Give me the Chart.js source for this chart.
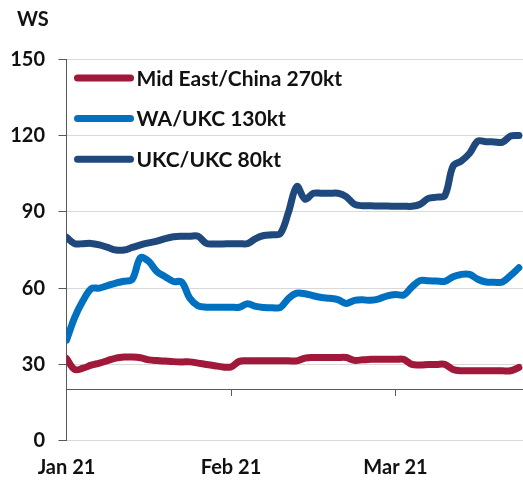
<!DOCTYPE html>
<html>
<head>
<meta charset="utf-8">
<script src="https://cdn.jsdelivr.net/npm/chart.js@4/dist/chart.umd.min.js"></script>
<style>
  html, body { margin: 0; padding: 0; background: #fff; }
  canvas { display: block; }
</style>
</head>
<body>
<canvas id="c" width="523" height="481" style="width:523px;height:481px"></canvas>
<script>
// ---- data ----
const tickIndex  = [0, 20, 40];
const tickLabels = ['Jan 21', 'Feb 21', 'Mar 21'];
const seriesNames = ['Mid East/China 270kt', 'WA/UKC 130kt', 'UKC/UKC 80kt'];
const seriesColors = ['#a0183a', '#0070c0', '#1f497d'];

const midEastChina = [32.3, 28, 28.5, 29.7, 30.5, 31.5, 32.5, 32.9, 32.9, 32.6,
  31.8, 31.5, 31.3, 31.1, 31, 31, 30.5, 30, 29.5, 29,
  29, 31.2, 31.4, 31.4, 31.4, 31.4, 31.4, 31.4, 31.4, 32.5,
  32.7, 32.7, 32.7, 32.7, 32.7, 31.6, 31.8, 32, 32, 32,
  32, 32, 30, 29.8, 30, 30, 30, 28, 27.5, 27.5,
  27.5, 27.5, 27.5, 27.5, 27.5, 28.8];

const waUkc = [39.5, 48.5, 55, 59.8, 60, 61, 62, 62.7, 63.5, 72,
  70.5, 66.5, 64.5, 62.6, 62.4, 56, 53, 52.5, 52.5, 52.5,
  52.5, 52.5, 53.9, 52.8, 52.4, 52.3, 52.4, 56, 58, 57.8,
  57, 56.3, 56, 55.5, 54, 55.2, 55.4, 55.2, 55.8, 57,
  57.5, 57.3, 60.5, 63, 62.9, 62.8, 62.7, 64.5, 65.4, 65.4,
  63.5, 62.4, 62.3, 62.4, 65, 68];

const ukcUkc = [80, 77.5, 77.5, 77.6, 77, 76, 75, 75, 76, 77,
  77.8, 78.5, 79.5, 80.2, 80.4, 80.4, 80.4, 77.6, 77.4, 77.4,
  77.5, 77.5, 77.5, 79.5, 80.7, 81, 81.5, 90, 100, 95,
  97.3, 97.3, 97.3, 97.3, 96, 93, 92.4, 92.4, 92.3, 92.3,
  92.2, 92.2, 92.2, 93, 95.3, 95.8, 96.4, 108, 110, 113,
  117.8, 117.6, 117.5, 117.4, 119.8, 120];

const seriesValues = [midEastChina, waUkc, ukcUkc];

// ---- build chart ----
const FONT = 'Lato, "Open Sans", sans-serif';
const toPoints = arr => arr.map((v, i) => ({ x: i, y: v }));

const datasets = seriesValues.map((vals, k) => ({
  label: seriesNames[k],
  data: toPoints(vals),
  borderColor: seriesColors[k],
  backgroundColor: seriesColors[k],
  borderWidth: 7,
  borderCapStyle: 'round',
  borderJoinStyle: 'round',
  pointRadius: 0,
  pointHoverRadius: 0,
  tension: 0.35,
  fill: false,
  xAxisID: 'x',
  yAxisID: 'y'
}));

const insideLegend = {
  id: 'insideLegend',
  afterDraw(chart) {
    const ctx = chart.ctx;
    const area = chart.chartArea;
    ctx.save();
    chart.data.datasets.forEach((ds, i) => {
      const y = area.top + 18.7 + i * 40.6;
      ctx.beginPath();
      ctx.lineCap = 'round';
      ctx.lineWidth = 7;
      ctx.strokeStyle = ds.borderColor;
      ctx.moveTo(area.left + 11, y);
      ctx.lineTo(area.left + 64, y);
      ctx.stroke();
      ctx.fillStyle = '#111';
      ctx.font = 'bold 21px ' + FONT;
      ctx.textBaseline = 'middle';
      ctx.textAlign = 'left';
      ctx.fillText(ds.label, area.left + 70, y + 1);
    });
    ctx.restore();
  }
};

// nudge the "WS" title slightly right of the layout edge
const titleShift = {
  id: 'titleShift',
  afterLayout(chart) {
    const t = chart.titleBlock;
    if (t) { t.left += 6.5; }
  }
};

const setMonthTicks = axis => { axis.ticks = tickIndex.map(v => ({ value: v })); };

new Chart(document.getElementById('c'), {
  type: 'line',
  data: { datasets },
  options: {
    responsive: false,
    animation: false,
    devicePixelRatio: 1,
    layout: { autoPadding: false, padding: { left: 10.5, right: 0, top: 0, bottom: 1 } },
    plugins: {
      legend: { display: false },
      tooltip: { enabled: false },
      title: {
        display: true,
        text: 'WS',
        align: 'start',
        color: '#111',
        font: { family: FONT, size: 20, weight: 'bold' },
        padding: { top: 8, bottom: 27.3 }
      }
    },
    scales: {
      x: {
        type: 'linear',
        position: 'bottom',
        min: 0,
        max: 55.5,
        afterBuildTicks: setMonthTicks,
        afterFit: axis => { axis.paddingLeft = 0; axis.paddingRight = 0; axis.height = 39.3; },
        border: { display: false },
        grid: { display: false, drawTicks: false },
        ticks: {
          padding: 15.3,
          color: '#111',
          font: { family: FONT, size: 20, weight: 'bold' },
          maxRotation: 0,
          autoSkip: false,
          callback: v => tickLabels[tickIndex.indexOf(v)]
        }
      },
      xAxisLine: {
        type: 'linear',
        axis: 'x',
        position: { y: 20 },
        min: 0,
        max: 55.5,
        afterBuildTicks: setMonthTicks,
        afterFit: axis => { axis.height = 0; axis.paddingLeft = 0; axis.paddingRight = 0; },
        border: { display: true, color: '#595959', width: 1 },
        grid: { display: true, drawOnChartArea: false, drawTicks: true, tickLength: 6, tickColor: '#595959', tickWidth: 1 },
        ticks: { display: false }
      },
      y: {
        type: 'linear',
        min: 0,
        max: 150,
        afterFit: axis => { axis.width = 56; },
        border: { display: true, color: '#595959', width: 1 },
        grid: { color: '#d9d9d9', lineWidth: 1, tickLength: 8, tickColor: '#595959', drawTicks: true },
        ticks: {
          stepSize: 30,
          padding: 13.5,
          color: '#111',
          font: { family: FONT, size: 20, weight: 'bold' }
        }
      }
    }
  },
  plugins: [insideLegend, titleShift]
});
</script>
</body>
</html>
